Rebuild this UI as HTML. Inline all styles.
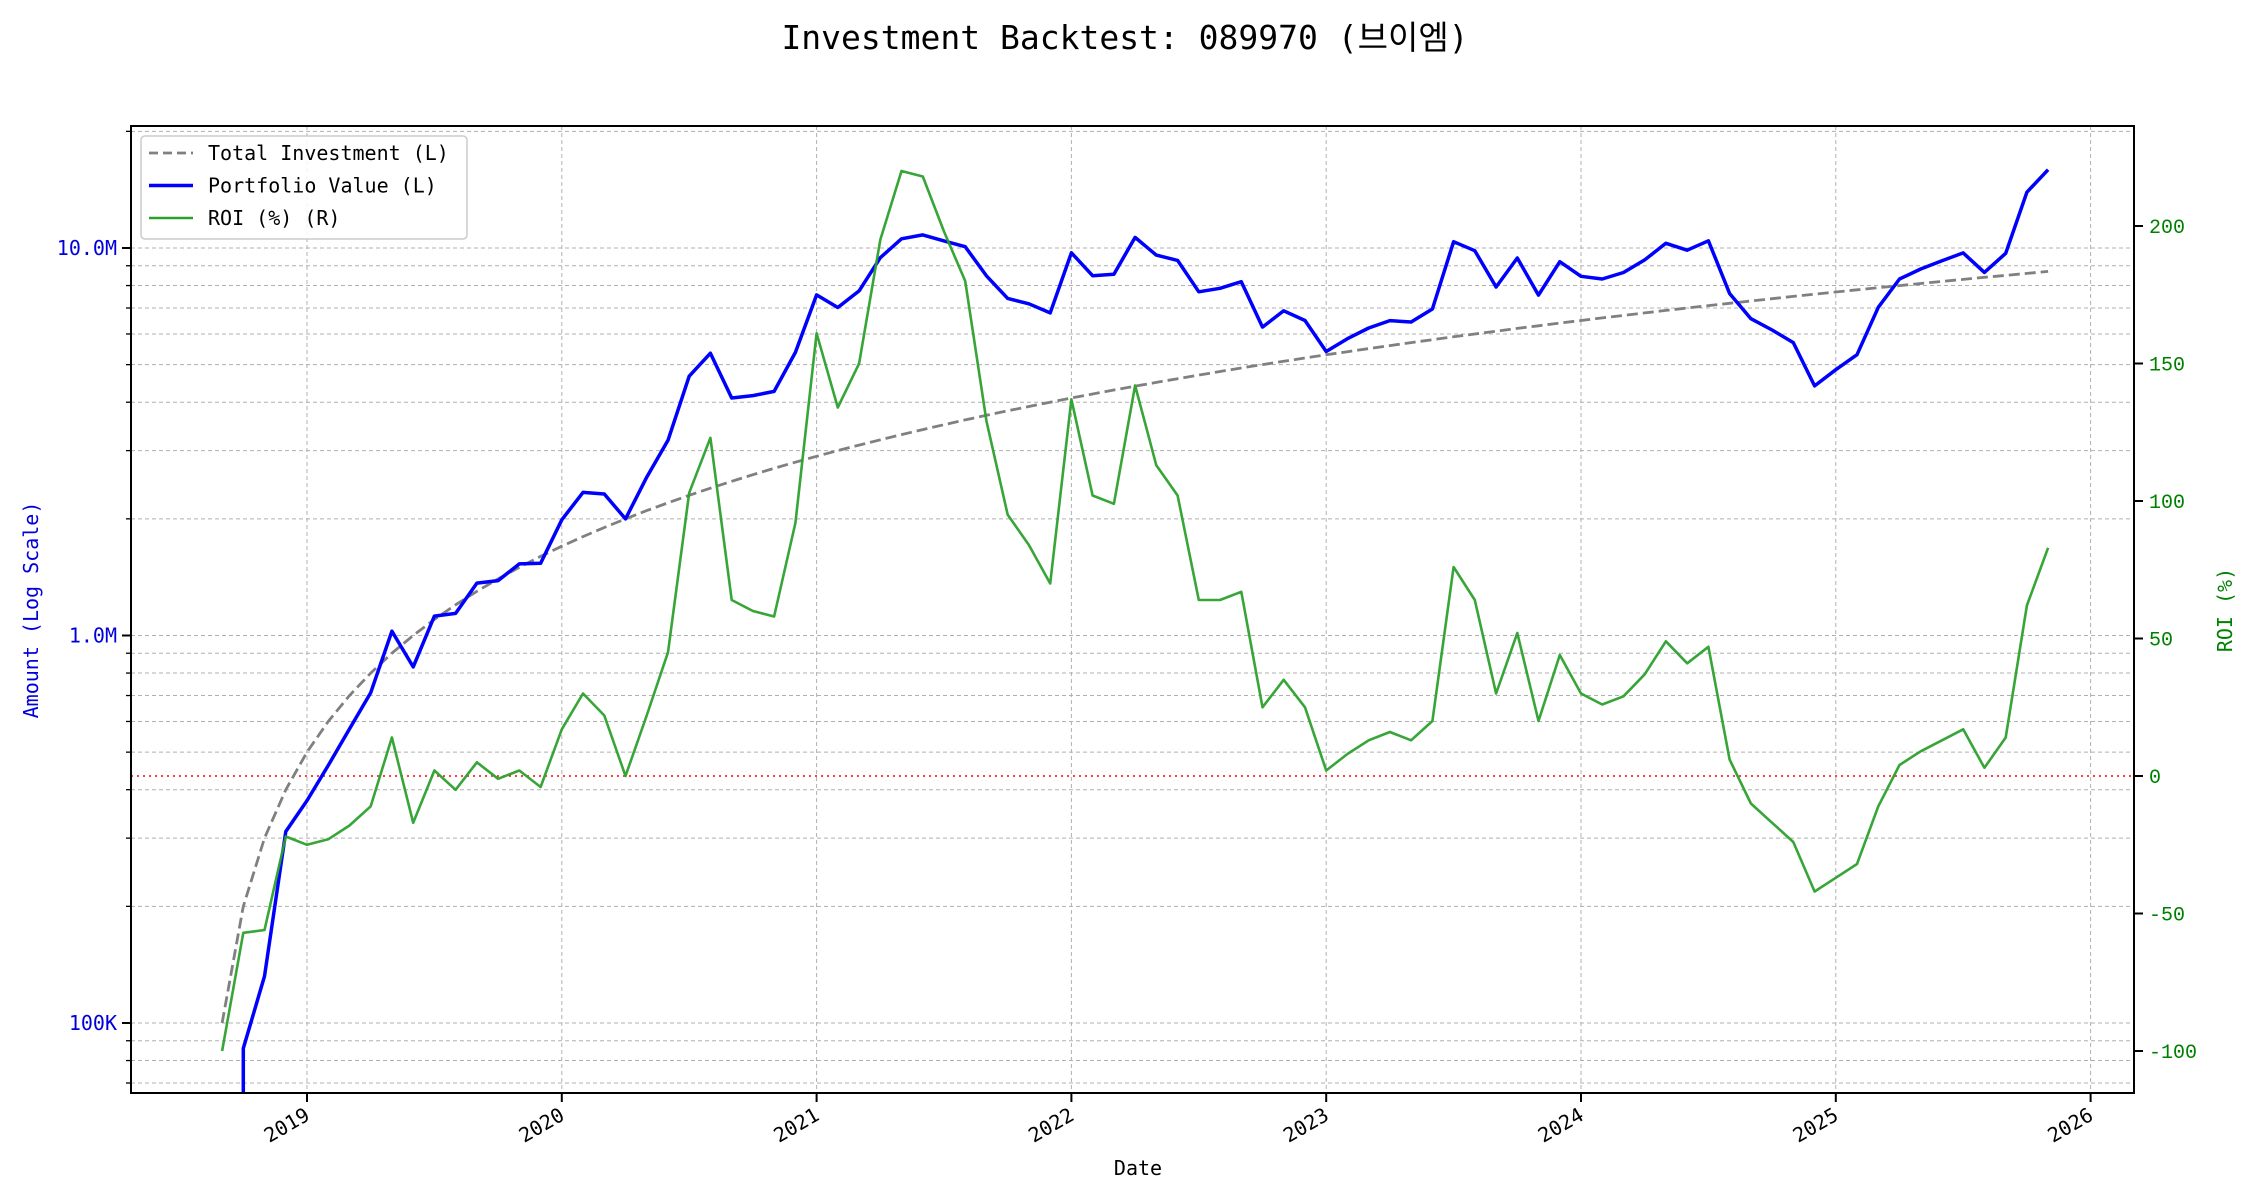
<!DOCTYPE html>
<html><head><meta charset="utf-8"><style>
html,body{margin:0;padding:0;background:#fff;}
svg{display:block;font-family:"DejaVu Sans Mono","Liberation Mono","Noto Sans CJK KR",monospace;}
</style></head><body>
<svg id="chart" width="2250" height="1200" xmlns="http://www.w3.org/2000/svg"></svg>
<script>
const startYear = 2018 + 8/12;
const investment = [100,200,300,400,500,600,700,800,900,1000,1100,1200,1300,1400,1500,1600,1700,1800,1900,2000,2100,2200,2300,2400,2500,2600,2700,2800,2900,3000,3100,3200,3300,3400,3500,3600,3700,3800,3900,4000,4100,4200,4300,4400,4500,4600,4700,4800,4900,5000,5100,5200,5300,5400,5500,5600,5700,5800,5900,6000,6100,6200,6300,6400,6500,6600,6700,6800,6900,7000,7100,7200,7300,7400,7500,7600,7700,7800,7900,8000,8100,8200,8300,8400,8500,8600,8700];
const portfolio = [0,86,132,312,375,462,574,712,1026,830,1122,1140,1365,1386,1530,1536,1989,2340,2318,2000,2562,3190,4669,5352,4100,4160,4266,5376,7569,7020,7750,9440,10560,10812,10430,10080,8473,7410,7176,6800,9717,8484,8557,10648,9585,9292,7708,7872,8183,6250,6885,6500,5406,5832,6215,6496,6441,6960,10384,9840,7930,9424,7560,9216,8450,8316,8643,9316,10281,9870,10437,7632,6570,6142,5700,4408,4851,5304,7031,8320,8829,9266,9711,8652,9690,13932,15921];
const roi = [-100,-57,-56,-22,-25,-23,-18,-11,14,-17,2,-5,5,-1,2,-4,17,30,22,0,22,45,103,123,64,60,58,92,161,134,150,195,220,218,198,180,129,95,84,70,137,102,99,142,113,102,64,64,67,25,35,25,2,8,13,16,13,20,76,64,30,52,20,44,30,26,29,37,49,41,47,6,-10,-17,-24,-42,-37,-32,-11,4,9,13,17,3,14,62,83];
const yearTicks = [2019,2020,2021,2022,2023,2024,2025,2026];
const leftTicks = [100000,1000000,10000000];
const leftTickLabels = ["100K","1.0M","10.0M"];
const roiTicks = [-100,-50,0,50,100,150,200];

const NS="http://www.w3.org/2000/svg";
const svg=document.getElementById('chart');
const L=131,R=2134,T=126,B=1093;
const xS=y=>307+254.8*(y-2019);
const yL=v=>v<=0?B+10:248-387.5*Math.log10(v/1e7);
const yR=r=>776-2.75*r;
function mk(tag,attrs,parent){const e=document.createElementNS(NS,tag);for(const k in attrs)e.setAttribute(k,attrs[k]);(parent||svg).appendChild(e);return e;}
function txt(s,attrs,parent){const e=mk('text',attrs,parent);e.textContent=s;return e;}

const title=txt("Investment Backtest: 089970 (브이엠)",{x:1125,y:49,'text-anchor':'middle','font-size':33,fill:'#000'});



const defs=mk('defs',{});const cp=mk('clipPath',{id:'clip'},defs);mk('rect',{x:L,y:T,width:R-L,height:B-T},cp);

const grid=mk('g',{});


for(let k=4;k<=7;k++){for(let m=1;m<=9;m++){const v=m*Math.pow(10,k);const y=yL(v);if(y<T||y>B)continue;
 mk('line',{x1:L,x2:R,y1:y,y2:y,stroke:'#b0b0b0','stroke-width':1,'stroke-dasharray':'4,3'},grid);
 mk('line',{x1:L-(m===1?9:5),x2:L,y1:y,y2:y,stroke:'#000','stroke-width':m===1?2:1.3},svg);}}
yearTicks.forEach(yr=>{const x=xS(yr);
 mk('line',{x1:x,x2:x,y1:T,y2:B,stroke:'#b0b0b0','stroke-width':1,'stroke-dasharray':'4,3'},grid);
 mk('line',{x1:x,x2:x,y1:B,y2:B+9,stroke:'#000','stroke-width':2});
 const t=txt(String(yr),{x:x+4,y:B+26,'text-anchor':'end','font-size':20,transform:`rotate(-30 ${x+4} ${B+26})`});
 
 
});
leftTicks.forEach((v,i)=>{const t=txt(leftTickLabels[i],{x:L-14,y:yL(v)+7,'text-anchor':'end','font-size':20,fill:'#0000dd'});
 
 });
roiTicks.forEach(r=>{const y=yR(r);
 mk('line',{x1:R,x2:R+9,y1:y,y2:y,stroke:'#000','stroke-width':2});
 const t=txt(String(r),{x:R+15,y:y+7,'font-size':20,fill:'#008000','font-family':'"Liberation Mono",monospace'});
 
 });

const z=mk('line',{x1:L,x2:R,y1:yR(0),y2:yR(0),stroke:'#ff0000','stroke-width':1.5,'stroke-dasharray':'2,4'});



const series=mk('g',{'clip-path':'url(#clip)'});
function pts(arr,f){return arr.map((v,i)=>xS(startYear+i/12).toFixed(1)+','+f(v).toFixed(1)).join(' ');}
function logPts(arr){
 const out=[];
 arr.forEach((v,i)=>{
  if(v<=0){
   const nx=(i+1<arr.length)?i+1:i;
   out.push(xS(startYear+nx/12).toFixed(1)+','+(B+20));
  } else out.push(xS(startYear+i/12).toFixed(1)+','+yL(v*1000).toFixed(1));
 });
 return out.join(' ');
}
const inv=mk('polyline',{points:pts(investment.map(v=>v*1000),yL),fill:'none',stroke:'#808080','stroke-width':2.8,'stroke-dasharray':'11,5'},series);


const pv=mk('polyline',{points:logPts(portfolio),fill:'none',stroke:'#0000ff','stroke-width':3.5,'stroke-linejoin':'round'},series);


const rl=mk('polyline',{points:pts(roi,yR),fill:'none',stroke:'#2ca02c','stroke-width':2.6,'stroke-linejoin':'round','stroke-opacity':0.95},series);



const fr=mk('rect',{x:L,y:T,width:R-L,height:B-T,fill:'none',stroke:'#000','stroke-width':2});



const xl=txt("Date",{x:1138,y:1175,'text-anchor':'middle','font-size':20});


const yl=txt("Amount (Log Scale)",{x:38,y:610,'text-anchor':'middle','font-size':20,fill:'#0000dd',transform:'rotate(-90 38 610)'});


const yr2=txt("ROI (%)",{x:2232,y:610,'text-anchor':'middle','font-size':20,fill:'#008000',transform:'rotate(-90 2232 610)'});



const lg=mk('g',{});


mk('rect',{x:141,y:136,width:326,height:103,rx:4,fill:'#fff','fill-opacity':0.85,stroke:'#cccccc','stroke-width':1.5},lg);
const entries=[["Total Investment (L)",'#808080','9,5',2.8],["Portfolio Value (L)",'#0000ff',null,3.5],["ROI (%) (R)",'#2ca02c',null,2.6]];
entries.forEach((e,i)=>{const y=153+i*32.5;
 const a={x1:149,x2:193,y1:y,y2:y,stroke:e[1],'stroke-width':e[3]};if(e[2])a['stroke-dasharray']=e[2];
 mk('line',a,lg);
 const t=txt(e[0],{x:208,y:y+7,'font-size':20},lg);
 
 });
</script>
</body></html>
